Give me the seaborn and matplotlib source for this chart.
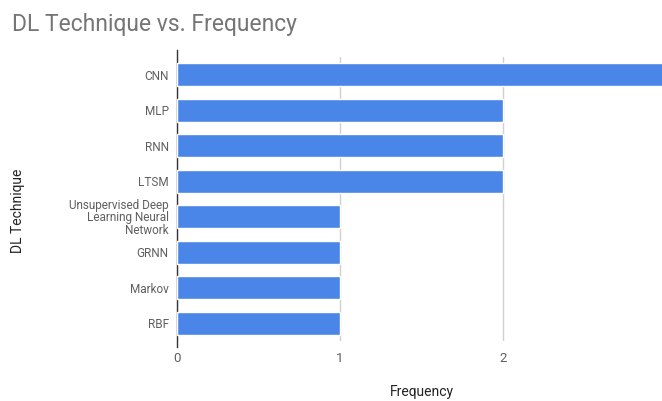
import pandas as pd
import seaborn as sns
import matplotlib.pyplot as plt

# Data
techniques = ['CNN', 'MLP', 'RNN', 'LTSM', 'Unsupervised Deep\nLearning Neural\nNetwork',
              'GRNN', 'Markov', 'RBF']
frequency = [3, 2, 2, 2, 1, 1, 1, 1]
x_ticks = [0, 1, 2]

df = pd.DataFrame({'technique': techniques, 'frequency': frequency})

sns.set_style('white')
plt.rcParams['font.family'] = ['Roboto', 'DejaVu Sans']

fig = plt.figure(figsize=(6.62, 4.01), dpi=100)
# axes runs past the right edge, the CNN bar is cut off like in the original
ax = fig.add_axes([177 / 662, 1 - 341 / 401, 489 / 662, 284 / 401])

sns.barplot(data=df, x='frequency', y='technique', orient='h',
            color='#4a86e8', width=0.65, saturation=1, ax=ax, zorder=3)

ax.set_xlim(0, 3)
ax.set_ylim(len(techniques) - 0.5, -0.5)
ax.set_xticks(x_ticks)
ax.set_xticklabels([str(t) for t in x_ticks])
ax.grid(axis='x', color='#d0d0d0', linewidth=1, zorder=0)
ax.grid(axis='y', visible=False)

for s in ['top', 'right', 'bottom']:
    ax.spines[s].set_visible(False)
ax.spines['left'].set_color('#333333')
ax.spines['left'].set_linewidth(1)
ax.spines['left'].set_bounds(len(techniques) - 0.5 + 0.17, -0.5 - 0.2)

ax.tick_params(axis='y', length=0, pad=6, labelsize=8.5, labelcolor='#5f5f5f')
ax.tick_params(axis='x', length=0, pad=8, labelsize=9.5, labelcolor='#5f5f5f')
for lbl in ax.get_yticklabels():
    lbl.set_linespacing(0.95)

ax.set_ylabel('DL Technique', fontsize=10, color='#222222')
ax.yaxis.set_label_coords(-0.31, 0.46)
ax.set_xlabel('Frequency', fontsize=10, color='#222222')
ax.xaxis.set_label_coords(0.5, -0.18)
ax.xaxis.label.set_va('center')

fig.text(12 / 662, 1 - 25 / 401, 'DL Technique vs. Frequency', fontsize=16.5,
         color='#757575', va='center', ha='left')

fig.savefig('out.png', dpi=100)
